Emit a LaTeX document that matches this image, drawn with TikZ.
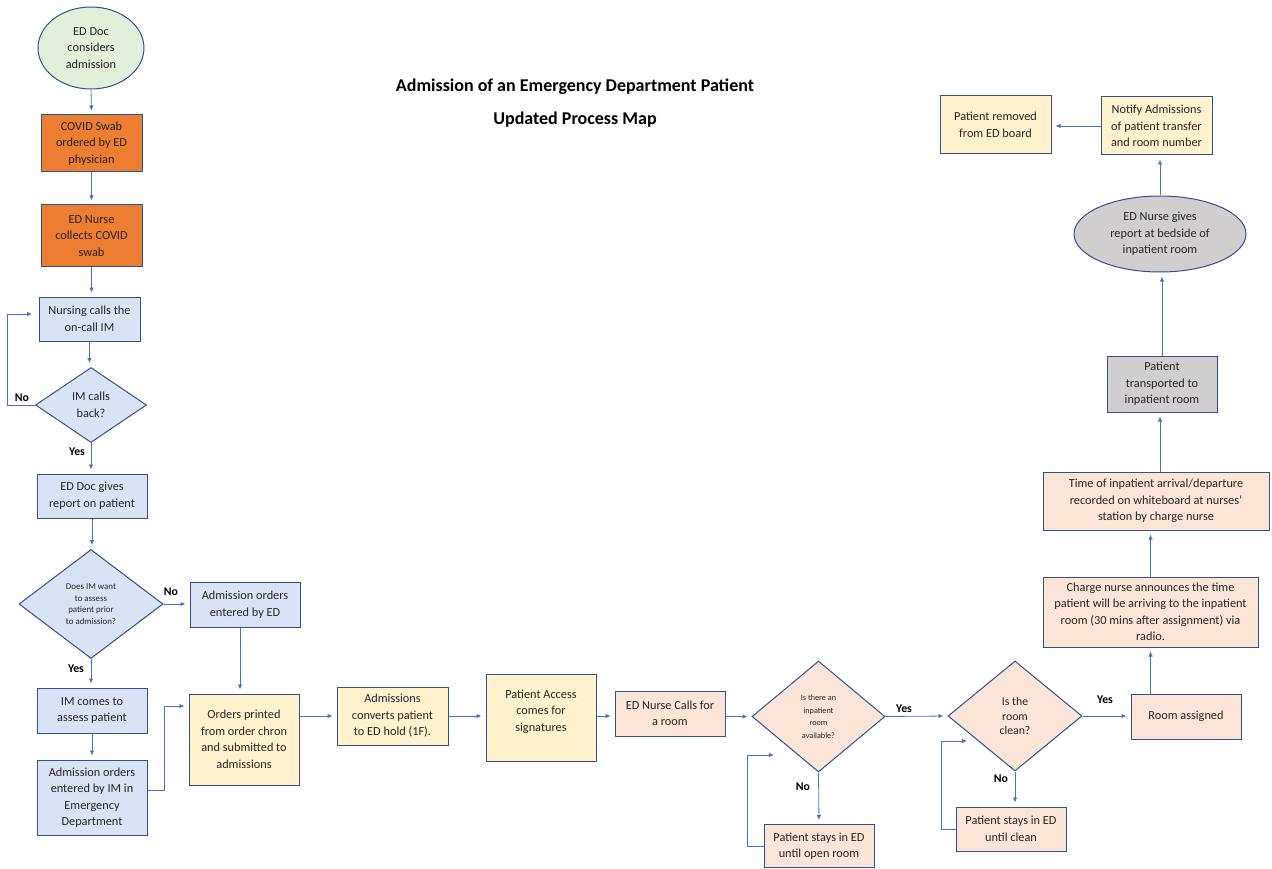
\documentclass[tikz,border=0pt]{standalone}
\usepackage{fontspec}
\setmainfont{Carlito}
\usetikzlibrary{shapes.geometric,arrows.meta}
\definecolor{bordc}{HTML}{2F528F}
\definecolor{linec}{HTML}{4472C4}
\definecolor{fblue}{HTML}{DAE3F3}
\definecolor{forange}{HTML}{ED7D31}
\definecolor{fyellow}{HTML}{FFF2CC}
\definecolor{fpeach}{HTML}{FBE5D6}
\definecolor{fgray}{HTML}{D0CECE}
\definecolor{fgreen}{HTML}{E2F0D9}
\definecolor{txt}{HTML}{262626}
\begin{document}
\begin{tikzpicture}[x=1pt,y=-1pt,
  box/.style={draw=bordc, line width=1pt, rectangle, align=center, inner sep=1pt, text=txt, font=\fontsize{12.3}{16.5}\selectfont},
  bluebox/.style={box, fill=fblue},
  orangebox/.style={box, fill=forange},
  yellowbox/.style={box, fill=fyellow},
  peachbox/.style={box, fill=fpeach},
  graybox/.style={box, fill=fgray},
  dia/.style={diamond, draw=bordc, line width=1pt, align=center, inner sep=0pt, text=txt, font=\fontsize{12.3}{16.5}\selectfont},
  ell/.style={ellipse, draw=bordc, line width=1pt, align=center, inner sep=0pt, text=txt, font=\fontsize{12.3}{16.5}\selectfont},
  conn/.style={draw=linec, line width=0.8pt, -{Latex[length=5pt,width=4.5pt]}, shorten >=4pt},
  lbl/.style={font=\bfseries\fontsize{11.8}{13}\selectfont, text=black, inner sep=0pt},
  ttl/.style={font=\bfseries\fontsize{18}{20}\selectfont, text=black, inner sep=0pt}
]
\useasboundingbox (0,0) rectangle (1272,869);

% titles
\node[ttl] (t1) at (575,87) {Admission of an Emergency Department Patient};
\node[ttl] (t2) at (575,120) {Updated Process Map};

% left column
\node[ell, fill=fgreen, minimum width=106pt, minimum height=82pt] (start) at (91,48) {ED Doc\\considers\\admission};
\node[orangebox, minimum width=101pt, minimum height=57pt] (covid) at (91.5,143.5) {COVID Swab\\ordered by ED\\physician};
\node[orangebox, minimum width=101pt, minimum height=62pt] (nurse) at (91.5,236) {ED Nurse\\collects COVID\\swab};
\node[bluebox, minimum width=101pt, minimum height=44pt] (calls) at (89.5,319) {Nursing calls the\\on-call IM};
\node[dia, fill=fblue, minimum width=111pt, minimum height=75pt] (dim) at (91,405) {IM calls\\back?};
\node[bluebox, minimum width=110pt, minimum height=44pt] (report) at (92,496) {ED Doc gives\\report on patient};
\node[dia, fill=fblue, minimum width=144pt, minimum height=109pt, font=\fontsize{8.9}{11.5}\selectfont] (dassess) at (91,604) {Does IM want\\to assess\\patient prior\\to admission?};
\node[bluebox, minimum width=110pt, minimum height=45pt] (ordersED) at (245,604.5) {Admission orders\\entered by ED};
\node[bluebox, minimum width=110pt, minimum height=45pt] (imcomes) at (92,710.5) {IM comes to\\assess patient};
\node[bluebox, minimum width=110pt, minimum height=75pt] (ordersIM) at (92,797.5) {Admission orders\\entered by IM in\\Emergency\\Department};

% bottom row
\node[yellowbox, minimum width=110pt, minimum height=91pt] (printed) at (244,739.5) {Orders printed\\from order chron\\and submitted to\\admissions};
\node[yellowbox, minimum width=111pt, minimum height=58pt] (converts) at (392.5,716) {Admissions\\converts patient\\to ED hold (1F).};
\node[yellowbox, minimum width=110pt, minimum height=87pt, text depth=14pt] (access) at (541,717.5) {Patient Access\\comes for\\signatures};
\node[peachbox, minimum width=110pt, minimum height=45pt] (edcalls) at (670,713.5) {ED Nurse Calls for\\a room};
\node[dia, fill=fpeach, minimum width=133pt, minimum height=111pt, font=\fontsize{8.2}{12.5}\selectfont] (droom) at (818.5,716.5) {Is there an\\inpatient\\room\\available?};
\node[dia, fill=fpeach, minimum width=134pt, minimum height=110pt, font=\fontsize{11.8}{14.5}\selectfont] (dclean) at (1015,716) {Is the\\room\\clean?};
\node[peachbox, minimum width=110pt, minimum height=45pt] (assigned) at (1186,716.5) {Room assigned};
\node[peachbox, minimum width=110pt, minimum height=43pt] (staysopen) at (819,846) {Patient stays in ED\\until open room};
\node[peachbox, minimum width=110pt, minimum height=44pt] (staysclean) at (1011,829) {Patient stays in ED\\until clean};

% right column
\node[peachbox, minimum width=215pt, minimum height=70pt] (charge) at (1150.5,612) {Charge nurse announces the time\\patient will be arriving to the inpatient\\room (30 mins after assignment) via\\radio.};
\node[peachbox, minimum width=226pt, minimum height=58pt] (time) at (1156,501) {Time of inpatient arrival/departure\\recorded on whiteboard at nurses'\\station by charge nurse};
\node[graybox, minimum width=110pt, minimum height=56pt] (transported) at (1162,384) {Patient\\transported to\\inpatient room};
\node[ell, fill=fgray, minimum width=172pt, minimum height=76pt] (bedside) at (1160,234) {ED Nurse gives\\report at bedside of\\inpatient room};
\node[yellowbox, minimum width=111pt, minimum height=58pt] (notify) at (1156.5,126) {Notify Admissions\\of patient transfer\\and room number};
\node[yellowbox, minimum width=111pt, minimum height=58pt] (removed) at (995.5,125) {Patient removed\\from ED board};

% free-end coordinates
\coordinate (loopA) at (7,405);
\coordinate (loopB) at (7,314);
\coordinate (loopEnd) at (36,314);
\coordinate (imA) at (164,790);
\coordinate (imB) at (164,706);
\coordinate (roomA) at (747,846);
\coordinate (roomB) at (747,755);
\coordinate (roomEnd) at (778,755);
\coordinate (cleanA) at (941,829);
\coordinate (cleanB) at (941,741);
\coordinate (cleanEnd) at (971,741);

% connectors left column
\draw[conn] (start.south) -- (covid.north);
\draw[conn] (covid.south) -- (nurse.north -| covid.south);
\draw[conn] (nurse.south) -- (nurse.south |- calls.north);
\draw[conn] (calls.south) -- (calls.south |- dim.north);
\draw[conn] (dim.west) -- (loopA) -- (loopB) -- (loopEnd);
\draw[conn] (dim.south) -- (dim.south |- report.north);
\draw[conn] (report.south) -- (report.south |- dassess.north);
\draw[conn] (dassess.east) -- (dassess.east -| ordersED.west);
\draw[conn] (dassess.south) -- (dassess.south |- imcomes.north);
\draw[conn] (imcomes.south) -- (ordersIM.north);
\draw[conn] (ordersIM.east |- imA) -- (imA) -- (imB) -- (imB -| printed.west);
\draw[conn] ([xshift=-5pt]ordersED.south) -- ([xshift=-5pt]ordersED.south |- printed.north);

% bottom row
\draw[conn] (printed.east |- converts.west) -- (converts.west);
\draw[conn] (converts.east) -- (converts.east -| access.west);
\draw[conn] (access.east |- converts.east) -- (converts.east -| edcalls.west);
\draw[conn] (edcalls.east |- droom.west) -- (droom.west);
\draw[conn] (droom.east) -- (dclean.west);
\draw[conn] (dclean.east) -- (dclean.east -| assigned.west);
\draw[conn] (droom.south) -- (staysopen.north);
\draw[conn] (staysopen.west) -- (roomA) -- (roomB) -- (roomEnd);
\draw[conn] (dclean.south) -- (dclean.south |- staysclean.north);
\draw[conn] (staysclean.west) -- (cleanA) -- (cleanB) -- (cleanEnd);

% right column
\draw[conn] (charge.south |- assigned.north) -- (charge.south);
\draw[conn] (charge.north) -- (charge.north |- time.south);
\draw[conn] ([xshift=4pt]time.north) -- ([xshift=4pt]time.north |- transported.south);
\draw[conn] (transported.north) -- (transported.north |- bedside.south);
\draw[conn] (bedside.north) -- (bedside.north |- notify.south);
\draw[conn] (notify.west) -- (notify.west -| removed.east);

% labels
\node[lbl] (lno1) at (22,398) {No};
\node[lbl] (lyes1) at (77,452) {Yes};
\node[lbl] (lno2) at (171,592) {No};
\node[lbl] (lyes2) at (76,669) {Yes};
\node[lbl] (lyes3) at (904,709) {Yes};
\node[lbl] (lno3) at (803,787) {No};
\node[lbl] (lno4) at (1001,779) {No};
\node[lbl] (lyes4) at (1105,700) {Yes};
\end{tikzpicture}
\end{document}
